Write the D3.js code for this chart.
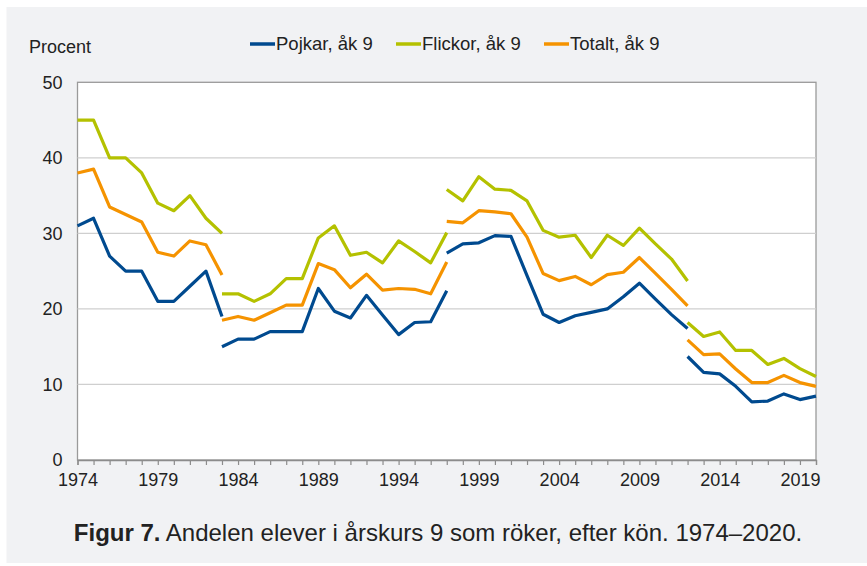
<!DOCTYPE html>
<html>
<head>
    <meta charset="utf-8" />
    <title>Figur 7</title>
    <script src="https://cdn.jsdelivr.net/npm/d3@7"></script>
    <style>
        body { margin: 0; background: #fff; }
        text { font-family: "Liberation Sans", Arial, sans-serif; fill: #222; }
        .grid line { stroke: #cfcfcf; stroke-width: 1.3; }
        .axis path, .axis line { stroke: #8c8c8c; }
        .series { fill: none; stroke-width: 3.2; stroke-linejoin: round; }
    </style>
</head>
<body>
<div id="vis"></div>
<script>
    // mätperioder (brott i serien 1983, 1997 och 2012)
    var yearsA = [1974, 1975, 1976, 1977, 1978, 1979, 1980, 1981, 1982, 1983];
    var yearsB = [1983, 1984, 1985, 1986, 1987, 1988, 1989, 1990, 1991, 1992, 1993, 1994, 1995, 1996, 1997];
    var yearsC = [1997, 1998, 1999, 2000, 2001, 2002, 2003, 2004, 2005, 2006, 2007, 2008, 2009, 2010, 2011, 2012];
    var yearsD = [2012, 2013, 2014, 2015, 2016, 2017, 2018, 2019, 2020];

    var pojkarA = [31, 32, 27, 25, 25, 21, 21, 23, 25, 19];
    var pojkarB = [15, 16, 16, 17, 17, 17, 22.7, 19.7, 18.8, 21.8, 19.2, 16.6, 18.2, 18.3, 22.4];
    var pojkarC = [27.4, 28.6, 28.75, 29.7, 29.6, 24.4, 19.3, 18.2, 19.1, 19.55, 20, 21.6, 23.4, 21.3, 19.25, 17.4];
    var pojkarD = [13.7, 11.6, 11.4, 9.75, 7.7, 7.8, 8.75, 8.0, 8.45];

    var flickorA = [45, 45, 40, 40, 38, 34, 33, 35, 32, 30];
    var flickorB = [22, 22, 21, 22, 24, 24, 29.4, 31, 27.1, 27.5, 26.1, 29, 27.6, 26.1, 30.1];
    var flickorC = [35.8, 34.3, 37.5, 35.85, 35.7, 34.3, 30.4, 29.5, 29.75, 26.8, 29.75, 28.4, 30.7, 28.6, 26.6, 23.7];
    var flickorD = [18.2, 16.35, 16.95, 14.5, 14.5, 12.65, 13.45, 12.1, 11.05];

    var totaltA = [38, 38.5, 33.5, 32.5, 31.5, 27.5, 27, 29, 28.5, 24.5];
    var totaltB = [18.5, 19, 18.5, 19.5, 20.5, 20.5, 26, 25.2, 22.8, 24.6, 22.5, 22.7, 22.6, 22, 26.2];
    var totaltC = [31.6, 31.4, 33, 32.85, 32.6, 29.5, 24.7, 23.75, 24.3, 23.2, 24.55, 24.85, 26.8, 24.7, 22.6, 20.4];
    var totaltD = [15.9, 13.95, 14.05, 12.05, 10.25, 10.25, 11.2, 10.25, 9.75];

    var seriesNames = ["Pojkar, åk 9", "Flickor, åk 9", "Totalt, åk 9"];
    var seriesColors = ["#004a8f", "#b4c100", "#f59300"];
    var yTicks = [0, 10, 20, 30, 40, 50];
    var xLabelYears = [1974, 1979, 1984, 1989, 1994, 1999, 2004, 2009, 2014, 2019];

    var width = 867,
        height = 566;

    var plotLeft = 77.5, plotRight = 816, plotTop = 82.3, plotBottom = 460;

    var segYears = [yearsA, yearsB, yearsC, yearsD];
    var seriesData = [
        [pojkarA, pojkarB, pojkarC, pojkarD],
        [flickorA, flickorB, flickorC, flickorD],
        [totaltA, totaltB, totaltC, totaltD]
    ];

    var x = d3.scaleLinear()
        .domain([1974, 2020])
        .range([plotLeft, plotRight]);

    var y = d3.scaleLinear()
        .domain([0, 50])
        .range([plotBottom, plotTop]);

    var svg = d3.select("#vis").append("svg")
        .attr("width", width)
        .attr("height", height);

    svg.append("rect")
        .attr("x", 6.5)
        .attr("y", 7)
        .attr("width", width - 6.5)
        .attr("height", 556)
        .attr("fill", "#f1f2f4");

    svg.append("rect")
        .attr("x", plotLeft)
        .attr("y", plotTop)
        .attr("width", plotRight - plotLeft)
        .attr("height", plotBottom - plotTop)
        .attr("fill", "#fff")
        .attr("stroke", "#9a9a9a")
        .attr("stroke-width", 1.3);

    svg.append("g")
        .attr("class", "grid")
        .selectAll("line")
        .data(yTicks.filter(function(d) { return d > 0 && d < 50; }))
        .enter().append("line")
        .attr("x1", plotLeft)
        .attr("x2", plotRight)
        .attr("y1", function(d) { return y(d); })
        .attr("y2", function(d) { return y(d); });

    // y-axel, endast etiketter
    svg.append("g")
        .attr("class", "axis axis-y")
        .attr("transform", "translate(" + plotLeft + ",0)")
        .call(d3.axisLeft(y).tickValues(yTicks).tickSize(0).tickPadding(15))
        .call(function(g) { g.select(".domain").remove(); })
        .selectAll("text")
        .style("font-size", "18px")
        .attr("fill", "#222");

    var xAxis = svg.append("g")
        .attr("class", "axis axis-x")
        .attr("transform", "translate(0," + plotBottom + ")")
        .call(d3.axisBottom(x)
            .ticks(46)
            .tickSize(5)
            .tickSizeOuter(5)
            .tickPadding(8)
            .tickFormat(function(d) { return xLabelYears.indexOf(d) >= 0 ? d : ""; }));

    xAxis.select(".domain").attr("stroke-width", 1.3);
    xAxis.selectAll("line").attr("stroke-width", 1.2);
    xAxis.selectAll("text")
        .style("font-size", "18px")
        .attr("fill", "#222");

    var line = d3.line()
        .x(function(d) { return x(d[0]); })
        .y(function(d) { return y(d[1]); });

    seriesData.forEach(function(segments, i) {
        svg.append("g")
            .selectAll("path")
            .data(segments.map(function(vals, j) {
                return segYears[j].map(function(yr, k) { return [yr, vals[k]]; });
            }))
            .enter().append("path")
            .attr("class", "series")
            .attr("stroke", seriesColors[i])
            .attr("d", line);
    });

    svg.append("text")
        .attr("x", 29)
        .attr("y", 53)
        .style("font-size", "18px")
        .text("Procent");

    var legendX = [250, 396, 544];
    var legend = svg.append("g")
        .selectAll("g")
        .data(seriesNames)
        .enter().append("g")
        .attr("transform", function(d, i) { return "translate(" + legendX[i] + ",44)"; });

    legend.append("line")
        .attr("x1", 0)
        .attr("x2", 25)
        .attr("stroke-width", 3.5)
        .attr("stroke", function(d, i) { return seriesColors[i]; });

    legend.append("text")
        .attr("x", 26)
        .attr("dy", "0.35em")
        .style("font-size", "18.5px")
        .text(function(d) { return d; });

    var title = svg.append("text")
        .attr("x", 438)
        .attr("y", 541)
        .attr("text-anchor", "middle")
        .style("font-size", "24px");

    title.append("tspan")
        .style("font-weight", "bold")
        .text("Figur 7.");

    title.append("tspan")
        .text(" Andelen elever i årskurs 9 som röker, efter kön. 1974–2020.");
</script>
</body>
</html>
